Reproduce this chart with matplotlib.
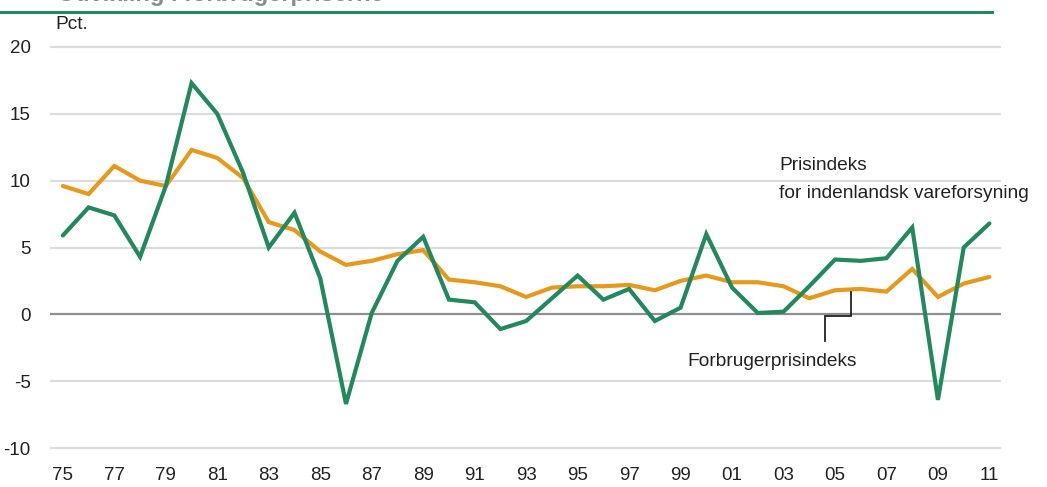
import matplotlib.pyplot as plt
from matplotlib.lines import Line2D

plt.rcParams['font.family'] = ['Liberation Sans', 'DejaVu Sans']

# Data (pct. change per year)
years = list(range(1975, 2012))
vareforsyning = [5.9, 8.0, 7.4, 4.3, 9.6, 17.3, 15.0, 10.6, 5.0, 7.6,
                 2.7, -6.7, 0.1, 4.0, 5.8, 1.1, 0.9, -1.1, -0.5, 1.2,
                 2.9, 1.1, 1.9, -0.5, 0.5, 6.0, 2.0, 0.1, 0.2, 2.1,
                 4.1, 4.0, 4.2, 6.5, -6.4, 5.0, 6.8]
forbruger = [9.6, 9.0, 11.1, 10.0, 9.6, 12.3, 11.7, 10.2, 6.9, 6.3,
             4.7, 3.7, 4.0, 4.5, 4.8, 2.6, 2.4, 2.1, 1.3, 2.0,
             2.1, 2.1, 2.2, 1.8, 2.5, 2.9, 2.4, 2.4, 2.1, 1.2,
             1.8, 1.9, 1.7, 3.4, 1.3, 2.3, 2.8]
y_ticks = [20, 15, 10, 5, 0, -5, -10]
x_ticks = list(range(1975, 2012, 2))
x_labels = [f'{y % 100:02d}' for y in x_ticks]

GREEN = '#22895e'
ORANGE = '#e6991c'
TEXT = '#222222'

fig = plt.figure(figsize=(10.47, 4.87), dpi=100)
ax = fig.add_axes([50 / 1047, 32.3 / 487, 951 / 1047, 414.4 / 487])

# grid lines
for v in y_ticks:
    if v == 0:
        ax.axhline(v, color='#8e8e93', lw=1.6, zorder=1)
    else:
        ax.axhline(v, color='#dcdcdc', lw=1.6, zorder=1)

ax.plot(years, forbruger, color=ORANGE, lw=3.0, solid_capstyle='round',
        solid_joinstyle='miter', zorder=3)
ax.plot(years, vareforsyning, color=GREEN, lw=3.0, solid_capstyle='round',
        solid_joinstyle='miter', zorder=4)

ax.set_xlim(1974.5, 2011.45)
ax.set_ylim(-10.5, 20.5)
ax.set_xticks(x_ticks)
ax.set_xticklabels(x_labels)
ax.set_yticks(y_ticks)
ax.set_yticklabels([str(v) for v in y_ticks])
ax.tick_params(axis='both', length=0, labelsize=13.5, colors=TEXT)
ax.tick_params(axis='y', pad=14)
ax.tick_params(axis='x', pad=9)
for s in ax.spines.values():
    s.set_visible(False)

# labels
ax.text(2002.82, 10.79, 'Prisindeks', fontsize=13.8, color=TEXT, va='baseline')
ax.text(2002.82, 8.69, 'for indenlandsk vareforsyning', fontsize=13.8, color=TEXT,
        va='baseline')
ax.text(1999.28, -3.9, 'Forbrugerprisindeks', fontsize=13.8, color=TEXT, va='baseline')
ax.plot([2005.64, 2005.64, 2004.6, 2004.6], [1.65, -0.15, -0.15, -2.0],
        color=TEXT, lw=1.3, zorder=5, solid_joinstyle='miter')

# header: green rule, "Pct." and a title cut by the top edge
fig.add_artist(Line2D([0, 992 / 1047], [1 - 12 / 487, 1 - 12 / 487],
                      color=GREEN, lw=2.2))
fig.text(55 / 1047, 1 - 29 / 487, 'Pct.', fontsize=13.8, color=TEXT, va='baseline')
fig.text(58 / 1047, 1 - 1.5 / 487, 'Udvikling i forbrugerpriserne', fontsize=17,
         fontweight='bold', color='#8c8c8c', va='baseline')

fig.savefig('out.png', dpi=100)
